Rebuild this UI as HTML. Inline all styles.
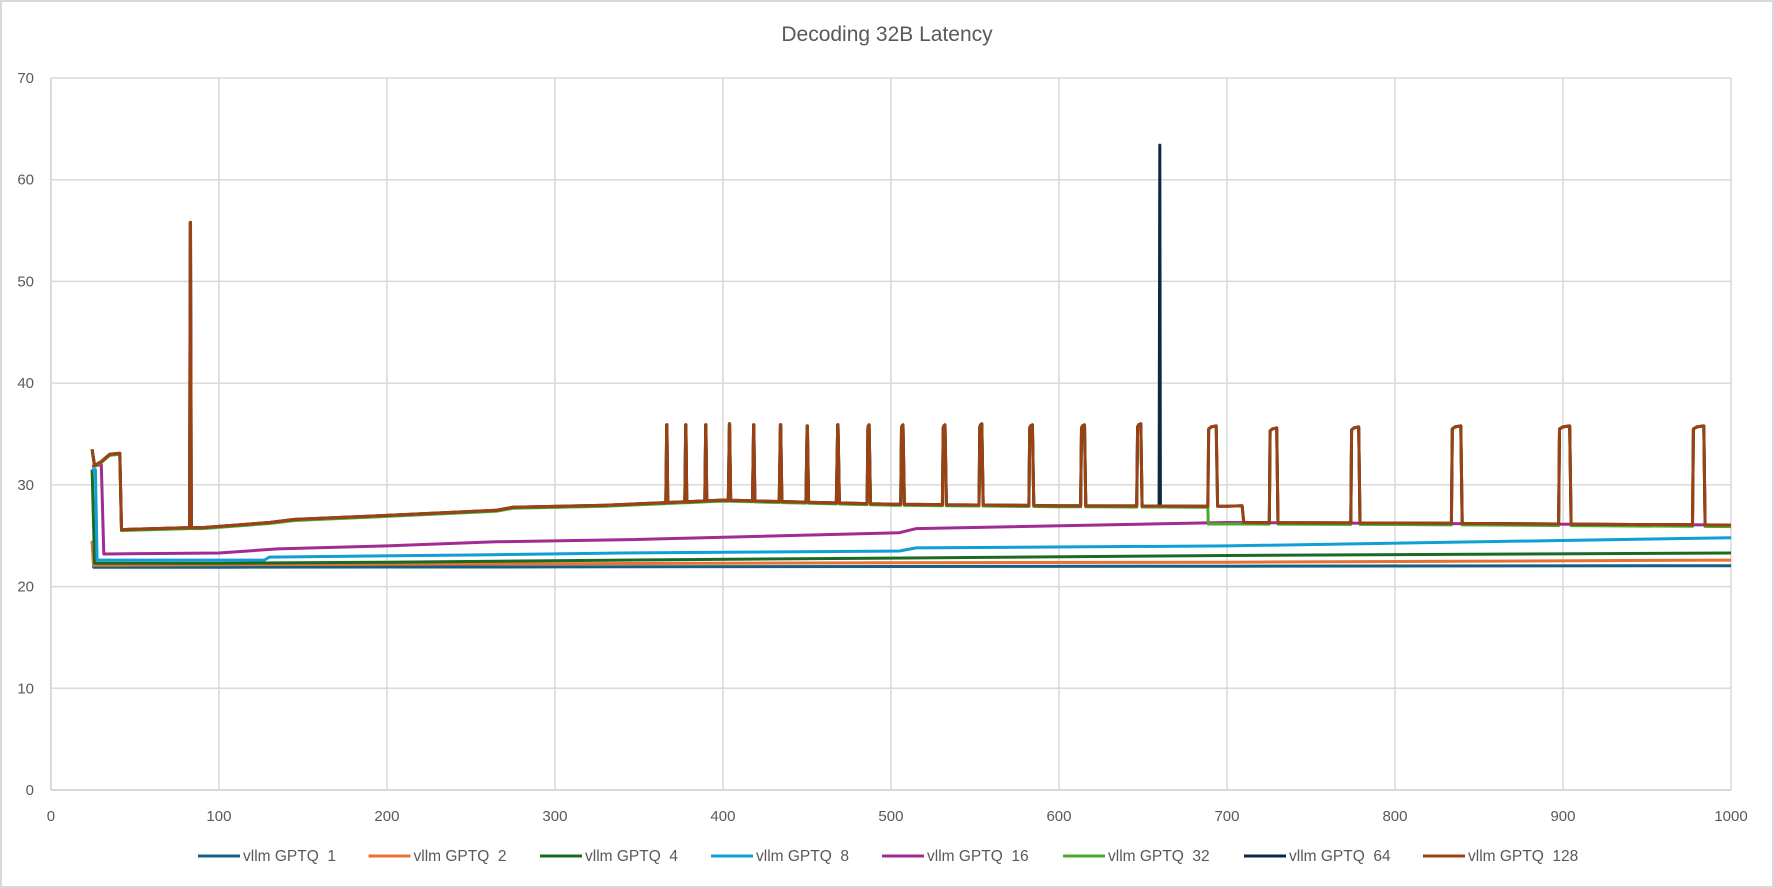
<!DOCTYPE html>
<html><head><meta charset="utf-8"><style>
html,body{margin:0;padding:0;background:#fff}
svg{display:block;font-family:"Liberation Sans",sans-serif}
text{white-space:pre}
</style></head><body>
<svg id="chart" width="1774" height="888" viewBox="0 0 1774 888">
<rect x="1" y="1" width="1772" height="886" fill="#fff" stroke="#d9d9d9" stroke-width="2"/>
<text x="887" y="41" text-anchor="middle" font-size="21" fill="#595959">Decoding 32B Latency</text>
<g id="grid"></g><g id="axes"></g><g id="series"></g><g id="legend"></g>
</svg>
<script>
const xTicks=[0,100,200,300,400,500,600,700,800,900,1000];
const yTicks=[0,10,20,30,40,50,60,70];
const seriesNames=["vllm GPTQ  1","vllm GPTQ  2","vllm GPTQ  4","vllm GPTQ  8","vllm GPTQ  16","vllm GPTQ  32","vllm GPTQ  64","vllm GPTQ  128"];
const seriesColors=["#156082","#E97132","#196B24","#0F9ED5","#A02B93","#4EA72E","#0E2841","#9B4214"];
const s1x=[24.5,25.5,100,300,500,700,1000];
const s1y=[24.5,21.9,21.9,21.93,21.97,22.0,22.05];
const s2x=[24.5,25.5,100,300,500,700,1000];
const s2y=[24.5,22.1,22.15,22.25,22.35,22.4,22.6];
const s4x=[24.5,26,100,200,340,500,700,1000];
const s4y=[31.5,22.3,22.3,22.4,22.6,22.8,23.05,23.3];
const s8x=[24.5,26.5,27.5,127,130,250,340,505,515,700,1000];
const s8y=[31.5,31.5,22.6,22.6,22.9,23.1,23.3,23.5,23.8,24.0,24.8];
const s16x=[24.5,30,31.5,100,135,200,265,340,505,515,700,1000];
const s16y=[31.8,32,23.2,23.3,23.7,24.0,24.4,24.6,25.3,25.7,26.3,26.05];
const topX=[24.5,26,30,35,41,42,82,90,130,145,200,265,275,330,400,500,600,700,709,710,800,1000];
const topY=[33.5,31.9,32.3,33.0,33.1,25.6,25.8,25.8,26.3,26.6,27.0,27.5,27.8,28.0,28.5,28.1,27.95,27.9,27.95,26.3,26.25,26.05];
const spikeStart=[82.5,366,377.3,389.2,403.2,417.6,433.5,449.4,467.5,485.8,505.8,530.6,552.4,582.1,612.9,646.3,688.6,725.2,773.7,833.6,897.4,977.1];
const spikeEnd=[83.6,367.2,378.5,390.4,404.6,419,435.1,451,469.3,487.8,508,533,554.9,585,616,649.5,694.4,730.4,779.2,840,904.8,984.6];
const spikeTop=[55.8,35.9,35.9,35.9,36.0,35.9,35.9,35.8,35.9,35.9,35.9,35.9,36.0,35.9,35.9,36.0,35.8,35.6,35.7,35.8,35.8,35.8];
const s64SpikeX=[660];
const s64SpikeY=[63.4];
const greenDropX=688.6;
const greenLowY=26.3;

const X0=50.9,X1=1731,Y0=790,Y1=78;
const sx=v=>X0+(v-0)/(1000-0)*(X1-X0);
const sy=v=>Y0-(v-0)/(70-0)*(Y0-Y1);
const NS="http://www.w3.org/2000/svg";
function mk(tag,attrs,parent){const e=document.createElementNS(NS,tag);for(const k in attrs)e.setAttribute(k,attrs[k]);parent.appendChild(e);return e;}
const grid=document.getElementById('grid'),axes=document.getElementById('axes'),ser=document.getElementById('series'),leg=document.getElementById('legend');
yTicks.forEach(t=>{
 const l=mk('line',{x1:X0,x2:X1,y1:sy(t),y2:sy(t),stroke:'#d9d9d9','stroke-width':t===0?2:1.5},grid);
 
 
 const tx=mk('text',{x:34,y:sy(t)+5,'text-anchor':'end','font-size':15,fill:'#595959'},axes);
 tx.textContent=t;
 
 
});
xTicks.forEach(t=>{
 const l=mk('line',{x1:sx(t),x2:sx(t),y1:Y1,y2:Y0,stroke:'#d9d9d9','stroke-width':t===0?2:1.5},grid);
 
 
 const tx=mk('text',{x:sx(t),y:821,'text-anchor':'middle','font-size':15,fill:'#595959'},axes);
 tx.textContent=t;
 
 
});
function interp(xs,ys,x){if(x<=xs[0])return ys[0];for(let i=1;i<xs.length;i++){if(x<=xs[i]){const f=(x-xs[i-1])/(xs[i]-xs[i-1]);return ys[i-1]+f*(ys[i]-ys[i-1]);}}return ys[ys.length-1];}
function topPoints(kind){
 const pts=[];
 const base=x=>{if(kind==='green'&&x>greenDropX)return Math.min(interp(topX,topY,x),greenLowY)-0.15;return interp(topX,topY,x)-(kind==='green'?0.1:0);};
 const knots=new Set(topX);
 spikeStart.forEach((s,i)=>{knots.add(s);knots.add(spikeEnd[i]);});
 s64SpikeX.forEach(s=>{knots.add(s-0.4);knots.add(s+0.4);});
 if(kind==='green'){knots.add(greenDropX);knots.add(greenDropX+0.3);}
 const xs=[...knots].filter(x=>x>=24.5&&x<=1000).sort((a,b)=>a-b);
 xs.forEach(x=>{
  pts.push([x,base(x)]);
  spikeStart.forEach((s,i)=>{
   if(Math.abs(x-s)<1e-9){
    if(kind==='green'&&(i===0||s===greenDropX))return;
    const w=spikeEnd[i]-s;const top=spikeTop[i];
    if(w<2){pts.push([s+w*0.45,top]);pts.push([s+w*0.55,top]);}
    else{pts.push([s+0.5,top-0.3]);pts.push([s+w*0.35,top-0.1]);pts.push([spikeEnd[i]-0.8,top]);}}
  });
  if(kind==='navy'){s64SpikeX.forEach((s,i)=>{if(Math.abs(x-(s-0.4))<1e-9){pts.push([s,s64SpikeY[i]]);}});}
 });
 return pts;
}
const allPts=[
 s1x.map((x,i)=>[x,s1y[i]]),
 s2x.map((x,i)=>[x,s2y[i]]),
 s4x.map((x,i)=>[x,s4y[i]]),
 s8x.map((x,i)=>[x,s8y[i]]),
 s16x.map((x,i)=>[x,s16y[i]]),
 topPoints('green'),
 topPoints('navy'),
 topPoints('brown')
];
allPts.forEach((pts,i)=>{
 const d=pts.map((p,j)=>(j?'L':'M')+sx(p[0]).toFixed(1)+','+sy(p[1]).toFixed(1)).join('');
 const p=mk('path',{d:d,fill:'none',stroke:seriesColors[i],'stroke-width':3,'stroke-linejoin':'round'},ser);
 
 
});
const legX=[198,368.5,540,711,882,1063,1244,1423];
seriesNames.forEach((n,i)=>{
 const g=mk('g',{},leg);
 
 
 mk('line',{x1:legX[i],x2:legX[i]+42,y1:856,y2:856,stroke:seriesColors[i],'stroke-width':3},g);
 const t=mk('text',{x:legX[i]+45,y:861,'font-size':15.5,fill:'#595959'},g);
 t.textContent=n;
 
 
});
</script>
</body></html>
